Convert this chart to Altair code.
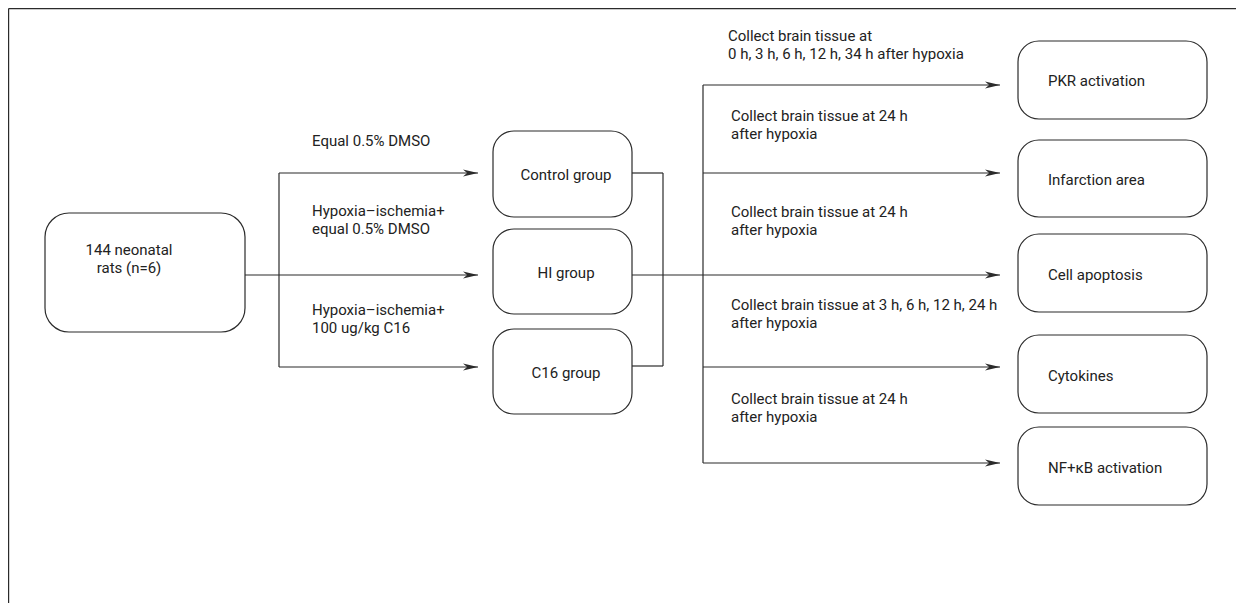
import altair as alt
import pandas as pd

# ---- Diagram content ----
start_lines = ["144 neonatal", "rats (n=6)"]
group_labels = ["Control group", "HI group", "C16 group"]
outcome_labels = ["PKR activation", "Infarction area", "Cell apoptosis", "Cytokines", "NF+κB activation"]
treatment_labels = [["Equal 0.5% DMSO"],
                    ["Hypoxia–ischemia+", "equal 0.5% DMSO"],
                    ["Hypoxia–ischemia+", "100 ug/kg C16"]]
collect_labels = [["Collect brain tissue at", "0 h, 3 h, 6 h, 12 h, 34 h after hypoxia"],
                  ["Collect brain tissue at 24 h", "after hypoxia"],
                  ["Collect brain tissue at 24 h", "after hypoxia"],
                  ["Collect brain tissue at 3 h, 6 h, 12 h, 24 h", "after hypoxia"],
                  ["Collect brain tissue at 24 h", "after hypoxia"]]

# ---- Layout (screen pixel coordinates) ----
start_box = (45, 245, 213, 332)
group_x = (493, 632)
group_y = [(131, 217), (229, 314), (329, 414)]
group_rows = [173, 275, 367]
outcome_x = (1018, 1207)
outcome_y = [(41, 119), (140, 217), (234, 312), (335, 413), (427, 505)]
outcome_rows = [85, 173, 275, 367, 463]
split_x1 = 279
arrow_end1 = 478
bracket_x = 663
split_x2 = 703
arrow_end2 = 1000

FONT = "Roboto, DejaVu Sans Condensed, sans-serif"
FS = 15
INK = "#2b2b2b"
W, H = 1228, 595
X0, Y0 = 8, 8

xs = alt.Scale(domain=[X0, X0 + W], nice=False, zero=False)
ys = alt.Scale(domain=[Y0, Y0 + H], nice=False, zero=False, reverse=True)

# segments
segs = []
segs.append((start_box[1], 275, split_x1, 275))
segs.append((split_x1, group_rows[0], split_x1, group_rows[-1]))
for r in group_rows:
    segs.append((split_x1, r, arrow_end1, r))
segs.append((group_x[1], group_rows[0], bracket_x, group_rows[0]))
segs.append((group_x[1], group_rows[-1] - 1, bracket_x, group_rows[-1] - 1))
segs.append((bracket_x, group_rows[0], bracket_x, group_rows[-1] - 1))
segs.append((group_x[1], 275, split_x2, 275))
segs.append((split_x2, outcome_rows[0], split_x2, outcome_rows[-1]))
for r in outcome_rows:
    segs.append((split_x2, r, arrow_end2, r))
# outer frame (left and top)
segs.append((8.6, 8.6, 8.6, 611))
segs.append((8.6, 8.6, 1236, 8.6))
seg_df = pd.DataFrame(segs, columns=["x", "y", "x2", "y2"])

heads = [(arrow_end1, r) for r in group_rows] + [(arrow_end2, r) for r in outcome_rows]
head_df = pd.DataFrame(heads, columns=["x", "y"])

boxes_big = pd.DataFrame([start_box], columns=["x", "x2", "y", "y2"])
boxes = []
for (a, b) in group_y:
    boxes.append((group_x[0], group_x[1], a, b))
for (a, b) in outcome_y:
    boxes.append((outcome_x[0], outcome_x[1], a, b))
boxes_df = pd.DataFrame(boxes, columns=["x", "x2", "y", "y2"])

# centered texts
ctext = [(129, 250, start_lines[0]), (129, 268, start_lines[1])]
for lab, yy in zip(group_labels, [175, 273, 373]):
    ctext.append((566, yy, lab))
ctext_df = pd.DataFrame(ctext, columns=["x", "y", "t"])

# left-aligned texts
ltext = []
for lab, yy in zip(outcome_labels, [81, 180, 275, 376, 468]):
    ltext.append((1048, yy, lab))
for lines, yy in zip(treatment_labels, [141, 211, 310]):
    for i, s in enumerate(lines):
        ltext.append((312, yy + 18 * i, s))
for k, (lines, yy) in enumerate(zip(collect_labels, [36, 116, 212, 305, 399])):
    for i, s in enumerate(lines):
        ltext.append((728 if k == 0 else 731, yy + 18 * i, s))
ltext_df = pd.DataFrame(ltext, columns=["x", "y", "t"])

X = lambda f: alt.X(f, type="quantitative", scale=xs, axis=None)
Y = lambda f: alt.Y(f, type="quantitative", scale=ys, axis=None)

rules = alt.Chart(seg_df).mark_rule(color=INK, strokeWidth=1.2).encode(
    x=X("x"), y=Y("y"), x2="x2", y2="y2")

arrow_path = "M0,0 L-2,-0.46 L-1.45,0 L-2,0.46 Z"
arrows = alt.Chart(head_df).mark_point(
    shape=arrow_path, size=225, filled=True, color=INK, opacity=1, strokeWidth=0
).encode(x=X("x"), y=Y("y"))

big = alt.Chart(boxes_big).mark_rect(
    fill="white", stroke=INK, strokeWidth=1.2, cornerRadius=24
).encode(x=X("x"), x2="x2", y=Y("y"), y2="y2")

small = alt.Chart(boxes_df).mark_rect(
    fill="white", stroke=INK, strokeWidth=1.2, cornerRadius=21
).encode(x=X("x"), x2="x2", y=Y("y"), y2="y2")

ct = alt.Chart(ctext_df).mark_text(
    font=FONT, fontSize=FS, color="#222", align="center", baseline="middle"
).encode(x=X("x"), y=Y("y"), text="t:N")

lt = alt.Chart(ltext_df).mark_text(
    font=FONT, fontSize=FS, color="#222", align="left", baseline="middle"
).encode(x=X("x"), y=Y("y"), text="t:N")

chart = alt.layer(rules, arrows, big, small, ct, lt).properties(
    width=W, height=H,
    autosize=alt.AutoSizeParams(type="none"),
    padding=0,
    background="white",
).configure_view(stroke=None)

chart.save("out.html", embed_options={"renderer": "svg", "actions": False})
